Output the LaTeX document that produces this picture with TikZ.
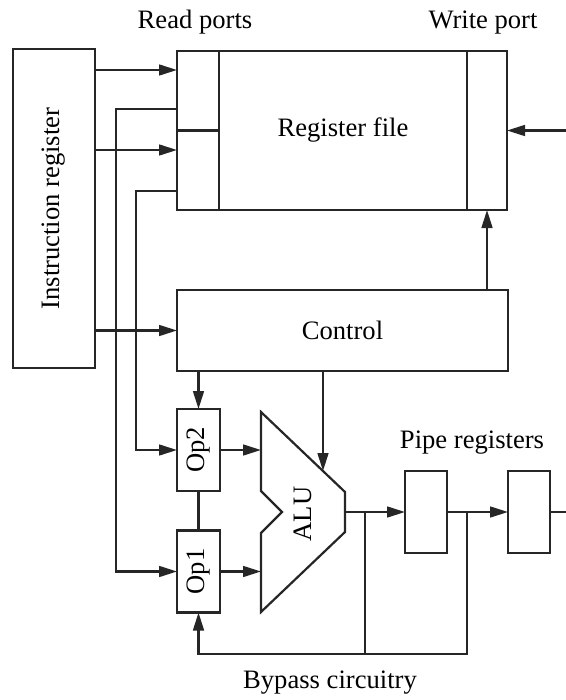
\documentclass[tikz,border=0pt]{standalone}
\usepackage{fontspec}
\setmainfont{Liberation Serif}
\usepackage{graphicx}
\usetikzlibrary{arrows.meta, positioning, calc}
\newcommand{\diagfont}{\fontsize{13.3}{16}\selectfont}
\tikzset{
  % Plain register / unit boxes
  block/.style={
    rectangle, draw=black!85, line width=1.1pt, fill=white,
    inner sep=0pt, outer sep=0pt, font=\diagfont, align=center,
  },
  % Wires
  wire/.style={line width=1.1pt, draw=black!85},
  arr/.style={wire, -{Triangle[length=9pt,width=5.4pt]}},
  % Free labels
  lbl/.style={font=\diagfont, inner sep=1pt},
}

\begin{document}
\begin{tikzpicture}[x=0.5pt, y=-0.5pt]
  \useasboundingbox (0,0) rectangle (566,700);

  % Instruction register
  \node[block, minimum width=41pt, minimum height=159.5pt] (ir) at (54,208.5)
    {\rotatebox{90}{Instruction register}};

  % Register file with its ports
  \node[block, minimum width=124pt, minimum height=79.5pt] (regfile) at (343,130.5) {Register file};
  \node[block, minimum width=21pt, minimum height=79.5pt, anchor=east] (readport) at (regfile.west) {};
  \node[block, minimum width=20pt, minimum height=79.5pt, anchor=west] (writeport) at (regfile.east) {};
  \draw[wire] (readport.west) -- (readport.east);

  \coordinate (rp1) at (177,70);
  \coordinate (rp2) at (177,109);
  \coordinate (rp3) at (177,150);
  \coordinate (rp4) at (177,191);
  \coordinate (wpin) at (566,130.5);

  % Control
  \node[block, minimum width=165.5pt, minimum height=40.5pt] (control) at (342.5,330.5) {Control};

  % Operand registers
  \node[block, minimum width=21.5pt, minimum height=41pt] (op2) at (198.5,450) {\rotatebox{90}{Op2}};
  \node[block, minimum width=21.5pt, minimum height=41pt] (op1) at (198.5,571.5) {\rotatebox{90}{Op1}};

  % ALU
  \coordinate (alutl) at (261,412);
  \coordinate (alutr) at (345,492);
  \coordinate (alubr) at (345,532);
  \coordinate (alubl) at (261,612);
  \coordinate (aluctl) at (323,471);
  \coordinate (aluout) at (345,512);
  \draw[wire, line join=miter] (alutl) -- (alutr) -- (alubr) -- (alubl)
    -- (261,533) -- (282,512) -- (261,491) -- cycle;
  \node[font=\diagfont] (alu) at (303,514) {\rotatebox{90}{ALU}};

  % Pipe registers
  \node[block, minimum width=21pt, minimum height=41pt] (pipe1) at (426,512) {};
  \node[block, minimum width=21pt, minimum height=41pt] (pipe2) at (529,512) {};
  \coordinate (pipeout) at (566,512);

  % Labels
  \node[lbl] (readlbl) at (195,22) {Read ports};
  \node[lbl] (writelbl) at (483,23) {Write port};
  \node[lbl] (pipelbl) at (472,443) {Pipe registers};
  \node[lbl] (bypasslbl) at (330,683) {Bypass circuitry};

  % Connections
  \draw[arr] (ir.east |- rp1) -- (rp1);
  \draw[arr] (ir.east |- rp3) -- (rp3);
  \draw[arr] (rp2) -| ($(op1.west)+(-61,0)$) -- (op1.west);
  \draw[arr] (rp4) -| ($(op2.west)+(-41,0)$) -- (op2.west);
  \draw[arr] (ir.east |- control.west) -- (control.west);
  \draw[arr] (control.north -| writeport.south) -- (writeport.south);
  \draw[arr] (wpin) -- (writeport.east);
  \draw[arr] (control.south -| op2.north) -- (op2.north);
  \draw[wire] (op2.south) -- (op1.north);
  \draw[arr] (op2.east) -- (op2.east -| alutl);
  \draw[arr] (op1.east) -- (op1.east -| alutl);
  \draw[arr] (control.south -| aluctl) -- (aluctl);
  \draw[arr] (aluout) -- (pipe1.west);
  \draw[arr] (pipe1.east) -- (pipe2.west);
  \draw[wire] (pipe2.east) -- (pipeout);

  % Bypass circuitry
  \coordinate (j1) at (365,512);
  \coordinate (j2) at (467,512);
  \coordinate (byp) at (198.5,654);
  \draw[arr] (j2) |- (byp) -- (op1.south);
  \draw[wire] (j1) -- (j1 |- byp);
\end{tikzpicture}
\end{document}
